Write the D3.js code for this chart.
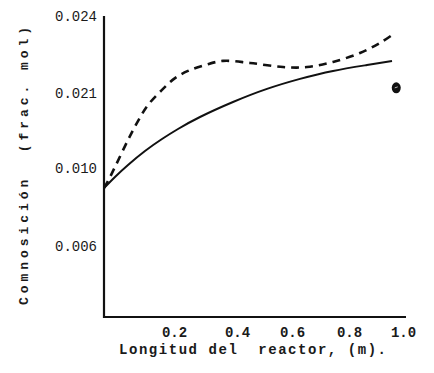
<!DOCTYPE html>
<html><head><meta charset="utf-8">
<script src="https://cdn.jsdelivr.net/npm/d3@7"></script>
<style>
html,body{margin:0;padding:0;background:#fff;}
svg{display:block;}
text{font-family:"Liberation Mono","DejaVu Sans Mono",monospace;fill:#1a1a1a;white-space:pre;}
</style></head>
<body>
<svg id="c" width="434" height="373"></svg>
<script>
// ---- data ----
const xTicks = [0.2, 0.4, 0.6, 0.8, 1.0];
const xTickLabels = ["0.2", "0.4", "0.6", "0.8", "1.0"];
const yTicks = [0.006, 0.010, 0.021, 0.024];
const yTickLabels = ["0.006", "0.010", "0.021", "0.024"];

const solidX = [0, 0.0314, 0.0686, 0.1171, 0.1657, 0.2127, 0.2825, 0.3873, 0.5091, 0.6281, 0.7439, 0.8667, 0.9593];
const solidY = [0.00897, 0.00954, 0.01044, 0.01249, 0.01425, 0.01572, 0.01748, 0.01968, 0.02116, 0.02155, 0.02186, 0.02209, 0.02225];

const dashX = [0, 0.0114, 0.0314, 0.0686, 0.0971, 0.1257, 0.1657, 0.2032, 0.2444, 0.2984, 0.3556, 0.4473, 0.5673, 0.6526, 0.7439, 0.8407, 0.9148, 0.9704];
const dashY = [0.00897, 0.00933, 0.01015, 0.01411, 0.01689, 0.01924, 0.02112, 0.02158, 0.02186, 0.02209, 0.02225, 0.02217, 0.02201, 0.02201, 0.02221, 0.02256, 0.02295, 0.02334];

const pointX = [0.975];
const pointY = [0.02120];

const xTitle = "Longitud del  reactor, (m).";
const yTitle = "Comnosición  (frac. mol)";

// ---- scales (axis ticks printed unevenly, so piecewise) ----
const x = d3.scaleLinear().domain([0, 0.2, 0.4, 0.6, 0.8, 1.0]).range([104, 174, 237, 292, 349, 403]);
const y = d3.scaleLinear().domain([0, 0.006, 0.010, 0.021, 0.024]).range([317, 246, 168, 93, 16]);

const svg = d3.select("#c");

// axes
const xAxis = d3.axisBottom(x).tickValues(xTicks).tickSize(0).tickPadding(10)
  .tickFormat((d, i) => xTickLabels[i]);
const gx = svg.append("g").attr("transform", `translate(0,${y(0)})`).call(xAxis);
gx.select(".domain").remove();
gx.selectAll("text").attr("font-size", 14).attr("font-weight", "bold").attr("font-family", "Liberation Mono, monospace").attr("fill", "#1a1a1a");

const yAxis = d3.axisLeft(y).tickValues(yTicks).tickSize(0).tickPadding(7)
  .tickFormat((d, i) => yTickLabels[i]);
const gy = svg.append("g").attr("transform", `translate(${x(0)},0)`).call(yAxis);
gy.select(".domain").remove();
gy.selectAll("text").attr("font-size", 14).attr("font-family", "Liberation Mono, monospace").attr("fill", "#333");

// axis lines
svg.append("line").attr("x1", x(0)).attr("x2", x(1.0) + 3).attr("y1", y(0)).attr("y2", y(0))
  .attr("stroke", "#111").attr("stroke-width", 2);
svg.append("line").attr("x1", x(0)).attr("x2", x(0)).attr("y1", y(0) + 1).attr("y2", y(0.024))
  .attr("stroke", "#111").attr("stroke-width", 2.2);

// lines
const solidLine = d3.line().x(d => x(d[0])).y(d => y(d[1])).curve(d3.curveNatural);
const dashLine = d3.line().x(d => x(d[0])).y(d => y(d[1])).curve(d3.curveCatmullRom.alpha(0.5));
svg.append("path").datum(solidX.map((v, i) => [v, solidY[i]]))
  .attr("d", solidLine).attr("fill", "none").attr("stroke", "#111").attr("stroke-width", 2);
svg.append("path").datum(dashX.map((v, i) => [v, dashY[i]]))
  .attr("d", dashLine).attr("fill", "none").attr("stroke", "#111").attr("stroke-width", 2.6)
  .attr("stroke-dasharray", "8,6");

// point
svg.selectAll(".pt").data(pointX.map((v, i) => [v, pointY[i]])).enter().append("ellipse")
  .attr("cx", d => x(d[0])).attr("cy", d => y(d[1])).attr("rx", 4.5).attr("ry", 5.5)
  .attr("fill", "#111");
svg.selectAll(".ptm").data(pointX.map((v, i) => [v, pointY[i]])).enter().append("line")
  .attr("x1", d => x(d[0]) - 1.5).attr("x2", d => x(d[0]) + 1.5)
  .attr("y1", d => y(d[1])).attr("y2", d => y(d[1]) - 1)
  .attr("stroke", "#bbb").attr("stroke-width", 1);

// titles
svg.append("text").attr("x", 119).attr("y", 354).attr("font-size", 14).attr("font-weight", "bold")
  .attr("textLength", 267).attr("lengthAdjust", "spacing").text(xTitle);
svg.append("text").attr("transform", "translate(28,305) rotate(-90)").attr("font-size", 13)
  .attr("font-weight", "bold").attr("textLength", 278).attr("lengthAdjust", "spacing").text(yTitle);
</script>
</body></html>
